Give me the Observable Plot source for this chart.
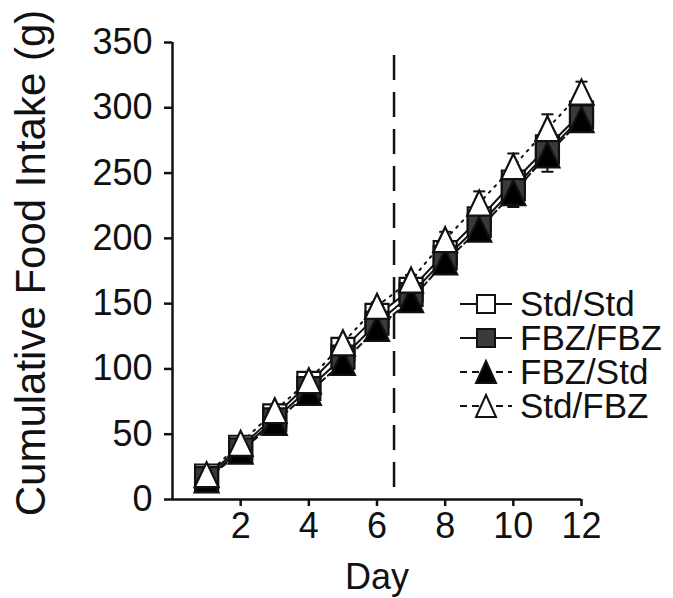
<!DOCTYPE html>
<html><head><meta charset="utf-8">
<script src="https://cdn.jsdelivr.net/npm/d3@7"></script>
<script src="https://cdn.jsdelivr.net/npm/@observablehq/plot@0.6"></script>
<style>
body{margin:0;background:#fff;}
#wrap{position:relative;width:673px;height:598px;font-family:"Liberation Sans",Arial,sans-serif;}
#legend{position:absolute;left:458px;top:287px;}
.row{display:flex;align-items:center;height:34px;font-size:35px;line-height:34px;color:#111;white-space:nowrap;}
.row svg{display:block;margin-right:6px;}
</style></head><body><div id="wrap"><div id="legend"></div></div>
<script>
// ---- data ----
const days = [1, 2, 3, 4, 5, 6, 7, 8, 9, 10, 11, 12];
const groups = ["Std/Std", "FBZ/FBZ", "FBZ/Std", "Std/FBZ"];
const stdStd = [18, 40, 64, 89, 115, 141, 161, 189, 215, 243, 270, 296];
const fbzFbz = [16, 38, 61, 85, 109, 135, 157, 185, 210, 238, 266, 293];
const fbzStd = [15, 37, 59, 82, 105, 131, 153, 182, 207, 235, 264, 291];
const stdFbz = [19, 43, 68, 91, 120, 148, 168, 199, 227, 255, 284, 312];
const semStdStd = [1, 2, 2, 3, 3, 4, 4, 5, 5, 6, 7, 8];
const semFbzFbz = [1, 2, 3, 3, 4, 4, 5, 5, 6, 7, 8, 8];
const semFbzStd = [1, 2, 2, 3, 4, 4, 5, 5, 7, 11, 13, 8];
const semStdFbz = [1, 1, 2, 2, 3, 3, 4, 6, 9, 10, 11, 8];
const yTicks = [0, 50, 100, 150, 200, 250, 300, 350];
const xTicks = [2, 4, 6, 8, 10, 12];
const switchDay = [6.5];
const xLabel = "Day";
const yLabel = "Cumulative Food Intake (g)";

// ---- build table ----
const series = [stdStd, fbzFbz, fbzStd, stdFbz];
const sems = [semStdStd, semFbzFbz, semFbzStd, semStdFbz];
const rows = groups.flatMap((g, gi) => days.map((d, i) => ({
  group: g, day: d, value: series[gi][i],
  lo: series[gi][i] - sems[gi][i], hi: series[gi][i] + sems[gi][i]
})));

// ---- symbols ----
const squareSym = s => ({draw(ctx) { ctx.rect(-s / 2, -s / 2, s, s); }});
const triSym = (w, h) => ({draw(ctx) { ctx.moveTo(0, -h / 2); ctx.lineTo(w / 2, h / 2); ctx.lineTo(-w / 2, h / 2); ctx.closePath(); }});
const capSym = {draw(ctx) { ctx.moveTo(-6, 0); ctx.lineTo(6, 0); }};

const style = {
  "Std/Std": {sym: squareSym(23), fill: "white", dash: null},
  "FBZ/FBZ": {sym: squareSym(23), fill: "#3a3a3a", dash: null},
  "FBZ/Std": {sym: triSym(24, 25), fill: "black", dash: "6,4"},
  "Std/FBZ": {sym: triSym(24, 25), fill: "white", dash: "2,6"}
};

const marks = [];
marks.push(Plot.ruleX(switchDay, {y1: 340, y2: 0, stroke: "#111", strokeWidth: 2.5, strokeDasharray: "25,12"}));
for (const g of groups) {
  marks.push(Plot.line(rows.filter(r => r.group === g), {x: "day", y: "value", stroke: "#111", strokeWidth: 2, strokeDasharray: style[g].dash}));
}
for (const g of groups) {
  const d = rows.filter(r => r.group === g);
  marks.push(Plot.ruleX(d, {x: "day", y1: "lo", y2: "hi", stroke: "#111", strokeWidth: 2}));
  marks.push(Plot.dot(d, {x: "day", y: "lo", symbol: capSym, r: 6, fill: "none", stroke: "#111", strokeWidth: 2}));
  marks.push(Plot.dot(d, {x: "day", y: "hi", symbol: capSym, r: 6, fill: "none", stroke: "#111", strokeWidth: 2}));
}
for (const g of groups) {
  marks.push(Plot.dot(rows.filter(r => r.group === g), {x: "day", y: "value", symbol: style[g].sym, r: 12, fill: style[g].fill, stroke: "#111", strokeWidth: 2.2}));
}
marks.push(Plot.ruleX([0], {stroke: "#111", strokeWidth: 2.5}));
marks.push(Plot.ruleY([0], {stroke: "#111", strokeWidth: 2.5}));
marks.push(Plot.axisY({ticks: yTicks, tickSize: 8, tickPadding: 12, fontSize: 36, strokeWidth: 2.5, label: null, tickFormat: d => String(d)}));
marks.push(Plot.axisX({ticks: xTicks, tickSize: 7, tickPadding: 6, fontSize: 36, strokeWidth: 2.5, label: null, tickFormat: d => String(d)}));
marks.push(Plot.text([yLabel], {text: d => d, frameAnchor: "left", textAnchor: "middle", rotate: -90, lineAnchor: "top", dx: -157, dy: -8, fontSize: 42, fill: "#111"}));
marks.push(Plot.text([xLabel], {text: d => d, frameAnchor: "bottom", textAnchor: "middle", lineAnchor: "top", dy: 64, fontSize: 36, fill: "#111"}));

const chart = Plot.plot({
  width: 673, height: 598,
  marginLeft: 172, marginRight: 92, marginTop: 42, marginBottom: 99,
  x: {domain: [0, 12]},
  y: {domain: [0, 350]},
  style: {fontFamily: "'Liberation Sans', Arial, sans-serif", color: "#111", background: "white", overflow: "visible"},
  marks
});
document.getElementById("wrap").prepend(chart);

// ---- legend ----
const legend = document.getElementById("legend");
for (const g of groups) {
  const row = document.createElement("div");
  row.className = "row";
  const isTri = g === "FBZ/Std" || g === "Std/FBZ";
  const shape = isTri
    ? `<path d="M28,6 L38,28 L18,28 Z" fill="${style[g].fill}" stroke="#111" stroke-width="2"/>`
    : `<rect x="19" y="8" width="18" height="18" fill="${style[g].fill}" stroke="#111" stroke-width="2"/>`;
  const dash = isTri ? `stroke-dasharray="7,5"` : "";
  row.innerHTML = `<svg width="56" height="34"><line x1="2" x2="54" y1="17" y2="17" stroke="#111" stroke-width="2" ${dash}/>${shape}</svg><span>${g}</span>`;
  legend.appendChild(row);
}
</script></body></html>
